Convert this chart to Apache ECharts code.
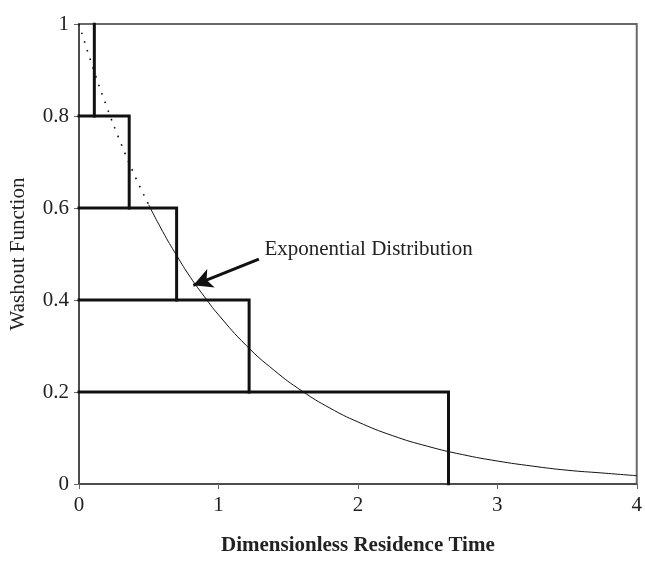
<!DOCTYPE html>
<html>
<head>
<meta charset="utf-8">
<script src="https://cdn.jsdelivr.net/npm/echarts@6/dist/echarts.min.js"></script>
<style>html,body{margin:0;padding:0;background:#fff;}#c{width:645px;height:561px;}</style>
</head>
<body>
<div id="c"></div>
<script>
// Step (discretised) washout levels and the times at which each level drops
const stepLevels = [1, 0.8, 0.6, 0.4, 0.2, 0];
const stepTimes = [0.11, 0.36, 0.70, 1.22, 2.65];

// Exponential distribution curve
const curveT = [0, 0.1, 0.2, 0.3, 0.4, 0.5, 0.6, 0.7, 0.8, 0.9, 1.0, 1.2, 1.4, 1.6, 1.8, 2.0, 2.25, 2.5, 2.75, 3.0, 3.25, 3.5, 3.75, 4.0];
const curveW = [1, 0.905, 0.819, 0.741, 0.670, 0.607, 0.549, 0.497, 0.449, 0.407, 0.368, 0.301, 0.247, 0.202, 0.165, 0.135, 0.105, 0.082, 0.064, 0.050, 0.039, 0.030, 0.024, 0.018];
const dottedUntil = 0.5;

const xTicks = ['0', '1', '2', '3', '4'];
const yTicks = ['0', '0.2', '0.4', '0.6', '0.8', '1'];

const annotationText = 'Exponential Distribution';
const xTitle = 'Dimensionless Residence Time';
const yTitle = 'Washout Function';

const FONT = '"Liberation Serif", "Times New Roman", serif';

const chart = echarts.init(document.getElementById('c'), null, {renderer: 'canvas'});

const dottedData = [], solidData = [];
curveT.forEach((t, i) => {
  if (t <= dottedUntil) dottedData.push([t, curveW[i]]);
  if (t >= dottedUntil) solidData.push([t, curveW[i]]);
});

const stepSeries = stepTimes.map((t, i) => {
  const data = i === 0
    ? [[t, stepLevels[0]], [t, stepLevels[1]]]
    : [[0, stepLevels[i]], [t, stepLevels[i]], [t, stepLevels[i + 1]]];
  return {
    type: 'line', data, symbol: 'none', silent: true, z: 5,
    lineStyle: {color: '#111', width: 3, cap: 'square', join: 'miter'}
  };
});

chart.setOption({
  animation: false,
  backgroundColor: '#fff',
  grid: {left: 78, right: 3, top: 24, bottom: 75, show: true, borderColor: '#6a6a6a', borderWidth: 2},
  xAxis: {
    type: 'value', min: 0, max: 4, interval: 1,
    name: xTitle, nameLocation: 'middle', nameGap: 51,
    nameTextStyle: {fontFamily: FONT, fontSize: 21, fontWeight: 'bold', color: '#222'},
    axisLine: {show: true, lineStyle: {color: '#444', width: 1.5}},
    axisTick: {show: true, length: 5, lineStyle: {color: '#666'}},
    axisLabel: {margin: 11, fontFamily: FONT, fontSize: 21, color: '#222',
      formatter: v => xTicks[Math.round(v)]},
    splitLine: {show: false}
  },
  yAxis: {
    type: 'value', min: 0, max: 1, interval: 0.2,
    name: yTitle, nameLocation: 'middle', nameGap: 50,
    nameTextStyle: {fontFamily: FONT, fontSize: 21, color: '#222'},
    axisLine: {show: true, lineStyle: {color: '#444', width: 1.5}},
    axisTick: {show: true, length: 5, lineStyle: {color: '#666'}},
    axisLabel: {margin: 10, fontFamily: FONT, fontSize: 21, color: '#222',
      formatter: v => yTicks[Math.round(v * 5)]},
    splitLine: {show: false}
  },
  series: [
    {type: 'line', data: dottedData, smooth: true, symbol: 'none', silent: true, z: 3,
      lineStyle: {color: '#111', width: 1.6, type: [1.6, 7.5]}},
    {type: 'line', data: solidData, smooth: true, symbol: 'none', silent: true, z: 3,
      lineStyle: {color: '#111', width: 1}},
    ...stepSeries,
    {type: 'line', data: [], silent: true,
      markLine: {
        silent: true, symbol: ['none', 'arrow'], symbolSize: [15, 19],
        lineStyle: {color: '#111', width: 3, type: 'solid'},
        label: {show: false},
        data: [[{coord: [1.29, 0.489]}, {coord: [0.82, 0.432]}]]
      }}
  ]
});

const p = chart.convertToPixel({gridIndex: 0}, [1.33, 0.51]);
chart.setOption({
  graphic: [{
    type: 'text', x: p[0], y: p[1],
    style: {text: annotationText, fontFamily: FONT, fontSize: 21, fill: '#222',
      textAlign: 'left', textVerticalAlign: 'middle'}
  }]
});
</script>
</body>
</html>
